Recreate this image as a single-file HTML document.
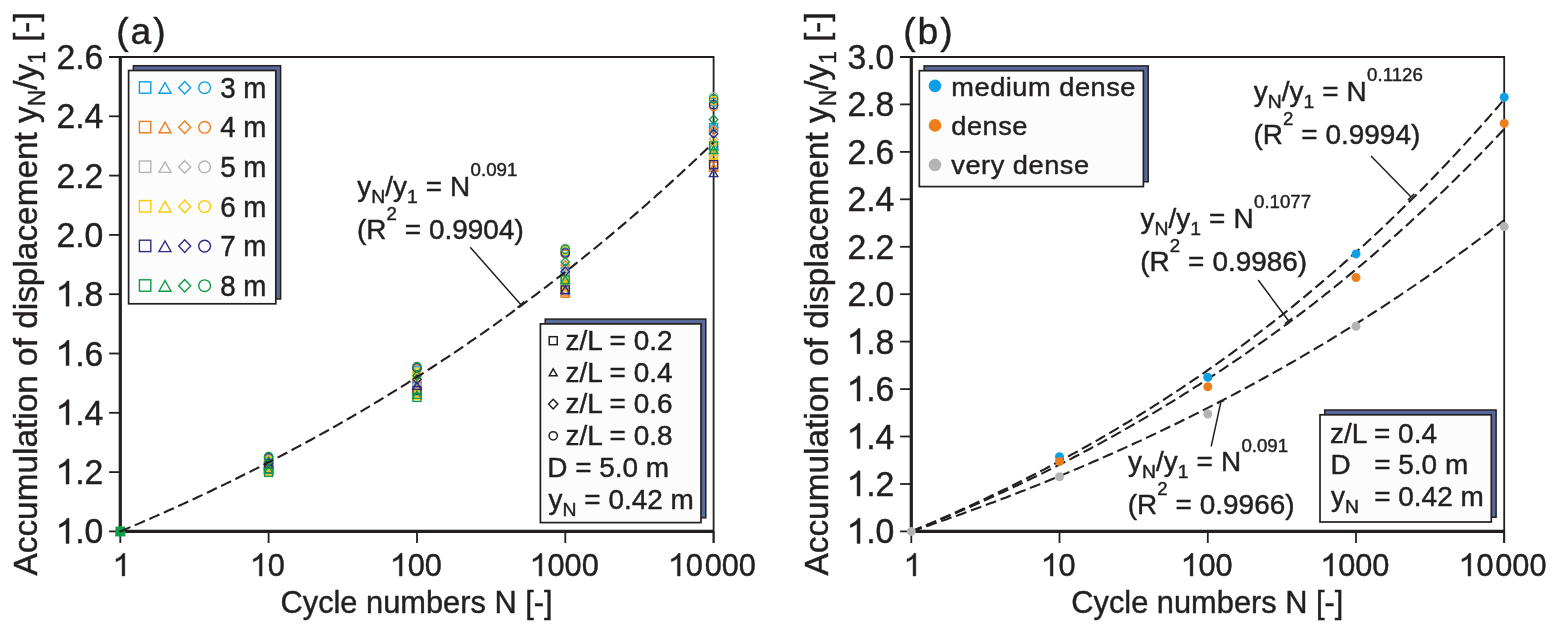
<!DOCTYPE html>
<html><head><meta charset="utf-8"><title>Figure</title>
<style>
html,body{margin:0;padding:0;background:#fff;}
body{width:1559px;height:633px;overflow:hidden;font-family:"Liberation Sans", sans-serif;}
svg{display:block;will-change:transform;}
svg text{font-family:"Liberation Sans", sans-serif;fill:#231f20;stroke:#231f20;stroke-width:0.45px;stroke-linejoin:round;}
</style></head><body>
<svg width="1559" height="633" viewBox="0 0 1559 633">
<rect width="1559" height="633" fill="#ffffff"/>
<path d="M109.1,57.0 H713.6 V543.0" fill="none" stroke="#231f20" stroke-width="1.8"/>
<path d="M120.3,57.0 V531.4 H713.6" fill="none" stroke="#231f20" stroke-width="3.2"/>
<line x1="109.1" y1="531.4" x2="120.3" y2="531.4" stroke="#231f20" stroke-width="1.8"/>
<path transform="translate(56.45,543.40) scale(0.01649,-0.01709)" d="M763 0H583V1147Q510 1085 392 1023Q274 961 176 930V1104Q349 1175 475 1276Q600 1377 647 1472H763Z" fill="#231f20" stroke="#231f20" stroke-width="26.3" stroke-linejoin="round"/>
<text transform="translate(75.23,543.40) scale(0.965,1)" font-size="35.0">.</text>
<text transform="translate(84.62,543.40) scale(0.965,1)" font-size="35.0">0</text>
<line x1="109.1" y1="472.1" x2="120.3" y2="472.1" stroke="#231f20" stroke-width="1.8"/>
<path transform="translate(56.45,484.10) scale(0.01649,-0.01709)" d="M763 0H583V1147Q510 1085 392 1023Q274 961 176 930V1104Q349 1175 475 1276Q600 1377 647 1472H763Z" fill="#231f20" stroke="#231f20" stroke-width="26.3" stroke-linejoin="round"/>
<text transform="translate(75.23,484.10) scale(0.965,1)" font-size="35.0">.</text>
<text transform="translate(84.62,484.10) scale(0.965,1)" font-size="35.0">2</text>
<line x1="109.1" y1="412.8" x2="120.3" y2="412.8" stroke="#231f20" stroke-width="1.8"/>
<path transform="translate(56.45,424.80) scale(0.01649,-0.01709)" d="M763 0H583V1147Q510 1085 392 1023Q274 961 176 930V1104Q349 1175 475 1276Q600 1377 647 1472H763Z" fill="#231f20" stroke="#231f20" stroke-width="26.3" stroke-linejoin="round"/>
<text transform="translate(75.23,424.80) scale(0.965,1)" font-size="35.0">.</text>
<text transform="translate(84.62,424.80) scale(0.965,1)" font-size="35.0">4</text>
<line x1="109.1" y1="353.5" x2="120.3" y2="353.5" stroke="#231f20" stroke-width="1.8"/>
<path transform="translate(56.45,365.50) scale(0.01649,-0.01709)" d="M763 0H583V1147Q510 1085 392 1023Q274 961 176 930V1104Q349 1175 475 1276Q600 1377 647 1472H763Z" fill="#231f20" stroke="#231f20" stroke-width="26.3" stroke-linejoin="round"/>
<text transform="translate(75.23,365.50) scale(0.965,1)" font-size="35.0">.</text>
<text transform="translate(84.62,365.50) scale(0.965,1)" font-size="35.0">6</text>
<line x1="109.1" y1="294.2" x2="120.3" y2="294.2" stroke="#231f20" stroke-width="1.8"/>
<path transform="translate(56.45,306.20) scale(0.01649,-0.01709)" d="M763 0H583V1147Q510 1085 392 1023Q274 961 176 930V1104Q349 1175 475 1276Q600 1377 647 1472H763Z" fill="#231f20" stroke="#231f20" stroke-width="26.3" stroke-linejoin="round"/>
<text transform="translate(75.23,306.20) scale(0.965,1)" font-size="35.0">.</text>
<text transform="translate(84.62,306.20) scale(0.965,1)" font-size="35.0">8</text>
<line x1="109.1" y1="234.9" x2="120.3" y2="234.9" stroke="#231f20" stroke-width="1.8"/>
<text transform="translate(56.45,246.90) scale(0.965,1)" font-size="35.0">2</text>
<text transform="translate(75.23,246.90) scale(0.965,1)" font-size="35.0">.</text>
<text transform="translate(84.62,246.90) scale(0.965,1)" font-size="35.0">0</text>
<line x1="109.1" y1="175.6" x2="120.3" y2="175.6" stroke="#231f20" stroke-width="1.8"/>
<text transform="translate(56.45,187.60) scale(0.965,1)" font-size="35.0">2</text>
<text transform="translate(75.23,187.60) scale(0.965,1)" font-size="35.0">.</text>
<text transform="translate(84.62,187.60) scale(0.965,1)" font-size="35.0">2</text>
<line x1="109.1" y1="116.3" x2="120.3" y2="116.3" stroke="#231f20" stroke-width="1.8"/>
<text transform="translate(56.45,128.30) scale(0.965,1)" font-size="35.0">2</text>
<text transform="translate(75.23,128.30) scale(0.965,1)" font-size="35.0">.</text>
<text transform="translate(84.62,128.30) scale(0.965,1)" font-size="35.0">4</text>
<line x1="109.1" y1="57.0" x2="120.3" y2="57.0" stroke="#231f20" stroke-width="1.8"/>
<text transform="translate(56.45,69.00) scale(0.965,1)" font-size="35.0">2</text>
<text transform="translate(75.23,69.00) scale(0.965,1)" font-size="35.0">.</text>
<text transform="translate(84.62,69.00) scale(0.965,1)" font-size="35.0">6</text>
<line x1="120.3" y1="531.4" x2="120.3" y2="543.0" stroke="#231f20" stroke-width="1.8"/>
<path transform="translate(113.36,576.00) scale(0.01500,-0.01538)" d="M763 0H583V1147Q510 1085 392 1023Q274 961 176 930V1104Q349 1175 475 1276Q600 1377 647 1472H763Z" fill="#231f20" stroke="#231f20" stroke-width="29.3" stroke-linejoin="round"/>
<line x1="268.6" y1="531.4" x2="268.6" y2="543.0" stroke="#231f20" stroke-width="1.8"/>
<path transform="translate(250.64,576.00) scale(0.01500,-0.01538)" d="M763 0H583V1147Q510 1085 392 1023Q274 961 176 930V1104Q349 1175 475 1276Q600 1377 647 1472H763Z" fill="#231f20" stroke="#231f20" stroke-width="29.3" stroke-linejoin="round"/>
<text transform="translate(267.73,576.00) scale(0.975,1)" font-size="31.5">0</text>
<line x1="417.0" y1="531.4" x2="417.0" y2="543.0" stroke="#231f20" stroke-width="1.8"/>
<path transform="translate(390.63,576.00) scale(0.01500,-0.01538)" d="M763 0H583V1147Q510 1085 392 1023Q274 961 176 930V1104Q349 1175 475 1276Q600 1377 647 1472H763Z" fill="#231f20" stroke="#231f20" stroke-width="29.3" stroke-linejoin="round"/>
<text transform="translate(407.71,576.00) scale(0.975,1)" font-size="31.5">0</text>
<text transform="translate(424.79,576.00) scale(0.975,1)" font-size="31.5">0</text>
<line x1="565.3" y1="531.4" x2="565.3" y2="543.0" stroke="#231f20" stroke-width="1.8"/>
<path transform="translate(530.41,576.00) scale(0.01500,-0.01538)" d="M763 0H583V1147Q510 1085 392 1023Q274 961 176 930V1104Q349 1175 475 1276Q600 1377 647 1472H763Z" fill="#231f20" stroke="#231f20" stroke-width="29.3" stroke-linejoin="round"/>
<text transform="translate(547.49,576.00) scale(0.975,1)" font-size="31.5">0</text>
<text transform="translate(564.58,576.00) scale(0.975,1)" font-size="31.5">0</text>
<text transform="translate(581.66,576.00) scale(0.975,1)" font-size="31.5">0</text>
<line x1="713.6" y1="531.4" x2="713.6" y2="543.0" stroke="#231f20" stroke-width="1.8"/>
<path transform="translate(668.70,576.00) scale(0.01500,-0.01538)" d="M763 0H583V1147Q510 1085 392 1023Q274 961 176 930V1104Q349 1175 475 1276Q600 1377 647 1472H763Z" fill="#231f20" stroke="#231f20" stroke-width="29.3" stroke-linejoin="round"/>
<text transform="translate(685.78,576.00) scale(0.975,1)" font-size="31.5">0</text>
<text transform="translate(704.66,576.00) scale(0.975,1)" font-size="31.5">0</text>
<text transform="translate(721.74,576.00) scale(0.975,1)" font-size="31.5">0</text>
<text transform="translate(738.82,576.00) scale(0.975,1)" font-size="31.5">0</text>
<text transform="translate(416.55,613.20) scale(0.957,1)" font-size="32.2" text-anchor="middle">Cycle numbers N [-]</text>
<text transform="translate(37.40,293.90) rotate(-90) scale(0.988,1)" font-size="33.8" text-anchor="middle">Accumulation of displacement y<tspan font-size="23" dy="8">N</tspan><tspan dy="-8">/y</tspan><tspan font-size="23" dy="8">1</tspan><tspan dy="-8"> [-]</tspan></text>
<text transform="translate(116.20,43.60)" font-size="37.2" text-anchor="start" letter-spacing="2.0">(a)</text>
<rect x="264.62" y="463.89" width="8.00" height="8.00" fill="none" stroke="#0d9fe6" stroke-width="1.4"/>
<path d="M268.62,461.43 L272.87,468.87 L264.38,468.87 Z" fill="none" stroke="#0d9fe6" stroke-width="1.4"/>
<path d="M268.62,459.52 L272.82,463.92 L268.62,468.32 L264.43,463.92 Z" fill="none" stroke="#0d9fe6" stroke-width="1.4"/>
<circle cx="268.62" cy="458.34" r="4.12" fill="none" stroke="#0d9fe6" stroke-width="1.4"/>
<rect x="264.62" y="462.76" width="8.00" height="8.00" fill="none" stroke="#ee7d1b" stroke-width="1.4"/>
<path d="M268.62,462.49 L272.87,469.93 L264.38,469.93 Z" fill="none" stroke="#ee7d1b" stroke-width="1.4"/>
<path d="M268.62,457.86 L272.82,462.26 L268.62,466.66 L264.43,462.26 Z" fill="none" stroke="#ee7d1b" stroke-width="1.4"/>
<circle cx="268.62" cy="459.17" r="4.12" fill="none" stroke="#ee7d1b" stroke-width="1.4"/>
<rect x="264.62" y="466.14" width="8.00" height="8.00" fill="none" stroke="#b4b4b4" stroke-width="1.4"/>
<path d="M268.62,463.56 L272.87,471.00 L264.38,471.00 Z" fill="none" stroke="#b4b4b4" stroke-width="1.4"/>
<path d="M268.62,460.35 L272.82,464.75 L268.62,469.15 L264.43,464.75 Z" fill="none" stroke="#b4b4b4" stroke-width="1.4"/>
<circle cx="268.62" cy="460.00" r="4.12" fill="none" stroke="#b4b4b4" stroke-width="1.4"/>
<rect x="264.62" y="467.27" width="8.00" height="8.00" fill="none" stroke="#fdc900" stroke-width="1.4"/>
<path d="M268.62,464.63 L272.87,472.07 L264.38,472.07 Z" fill="none" stroke="#fdc900" stroke-width="1.4"/>
<path d="M268.62,461.18 L272.82,465.58 L268.62,469.98 L264.43,465.58 Z" fill="none" stroke="#fdc900" stroke-width="1.4"/>
<circle cx="268.62" cy="460.83" r="4.12" fill="none" stroke="#fdc900" stroke-width="1.4"/>
<rect x="264.62" y="465.02" width="8.00" height="8.00" fill="none" stroke="#2e2d86" stroke-width="1.4"/>
<path d="M268.62,460.36 L272.87,467.80 L264.38,467.80 Z" fill="none" stroke="#2e2d86" stroke-width="1.4"/>
<path d="M268.62,458.69 L272.82,463.09 L268.62,467.49 L264.43,463.09 Z" fill="none" stroke="#2e2d86" stroke-width="1.4"/>
<circle cx="268.62" cy="457.51" r="4.12" fill="none" stroke="#2e2d86" stroke-width="1.4"/>
<rect x="264.62" y="468.40" width="8.00" height="8.00" fill="none" stroke="#0e9c47" stroke-width="1.4"/>
<path d="M268.62,465.69 L272.87,473.13 L264.38,473.13 Z" fill="none" stroke="#0e9c47" stroke-width="1.4"/>
<path d="M268.62,457.03 L272.82,461.43 L268.62,465.83 L264.43,461.43 Z" fill="none" stroke="#0e9c47" stroke-width="1.4"/>
<circle cx="268.62" cy="456.68" r="4.12" fill="none" stroke="#0e9c47" stroke-width="1.4"/>
<rect x="412.95" y="382.12" width="8.00" height="8.00" fill="none" stroke="#0d9fe6" stroke-width="1.4"/>
<path d="M416.95,384.22 L421.19,391.66 L412.71,391.66 Z" fill="none" stroke="#0d9fe6" stroke-width="1.4"/>
<path d="M416.95,378.45 L421.15,382.85 L416.95,387.25 L412.75,382.85 Z" fill="none" stroke="#0d9fe6" stroke-width="1.4"/>
<circle cx="416.95" cy="370.28" r="4.12" fill="none" stroke="#0d9fe6" stroke-width="1.4"/>
<rect x="412.95" y="388.88" width="8.00" height="8.00" fill="none" stroke="#ee7d1b" stroke-width="1.4"/>
<path d="M416.95,386.47 L421.19,393.91 L412.71,393.91 Z" fill="none" stroke="#ee7d1b" stroke-width="1.4"/>
<path d="M416.95,376.67 L421.15,381.07 L416.95,385.47 L412.75,381.07 Z" fill="none" stroke="#ee7d1b" stroke-width="1.4"/>
<circle cx="416.95" cy="369.04" r="4.12" fill="none" stroke="#ee7d1b" stroke-width="1.4"/>
<rect x="412.95" y="384.37" width="8.00" height="8.00" fill="none" stroke="#b4b4b4" stroke-width="1.4"/>
<path d="M416.95,379.71 L421.19,387.15 L412.71,387.15 Z" fill="none" stroke="#b4b4b4" stroke-width="1.4"/>
<path d="M416.95,380.23 L421.15,384.63 L416.95,389.03 L412.75,384.63 Z" fill="none" stroke="#b4b4b4" stroke-width="1.4"/>
<circle cx="416.95" cy="371.53" r="4.12" fill="none" stroke="#b4b4b4" stroke-width="1.4"/>
<rect x="412.95" y="391.13" width="8.00" height="8.00" fill="none" stroke="#fdc900" stroke-width="1.4"/>
<path d="M416.95,388.72 L421.19,396.16 L412.71,396.16 Z" fill="none" stroke="#fdc900" stroke-width="1.4"/>
<path d="M416.95,373.12 L421.15,377.52 L416.95,381.92 L412.75,377.52 Z" fill="none" stroke="#fdc900" stroke-width="1.4"/>
<circle cx="416.95" cy="372.77" r="4.12" fill="none" stroke="#fdc900" stroke-width="1.4"/>
<rect x="412.95" y="386.62" width="8.00" height="8.00" fill="none" stroke="#2e2d86" stroke-width="1.4"/>
<path d="M416.95,381.96 L421.19,389.40 L412.71,389.40 Z" fill="none" stroke="#2e2d86" stroke-width="1.4"/>
<path d="M416.95,374.90 L421.15,379.30 L416.95,383.70 L412.75,379.30 Z" fill="none" stroke="#2e2d86" stroke-width="1.4"/>
<circle cx="416.95" cy="367.79" r="4.12" fill="none" stroke="#2e2d86" stroke-width="1.4"/>
<rect x="412.95" y="393.38" width="8.00" height="8.00" fill="none" stroke="#0e9c47" stroke-width="1.4"/>
<path d="M416.95,390.98 L421.19,398.42 L412.71,398.42 Z" fill="none" stroke="#0e9c47" stroke-width="1.4"/>
<path d="M416.95,371.34 L421.15,375.74 L416.95,380.14 L412.75,375.74 Z" fill="none" stroke="#0e9c47" stroke-width="1.4"/>
<circle cx="416.95" cy="366.55" r="4.12" fill="none" stroke="#0e9c47" stroke-width="1.4"/>
<rect x="561.27" y="272.41" width="8.00" height="8.00" fill="none" stroke="#0d9fe6" stroke-width="1.4"/>
<path d="M565.27,280.92 L569.51,288.36 L561.03,288.36 Z" fill="none" stroke="#0d9fe6" stroke-width="1.4"/>
<path d="M565.27,263.89 L569.48,268.29 L565.27,272.69 L561.07,268.29 Z" fill="none" stroke="#0d9fe6" stroke-width="1.4"/>
<circle cx="565.27" cy="251.80" r="4.12" fill="none" stroke="#0d9fe6" stroke-width="1.4"/>
<rect x="561.27" y="289.31" width="8.00" height="8.00" fill="none" stroke="#ee7d1b" stroke-width="1.4"/>
<path d="M565.27,288.39 L569.51,295.83 L561.03,295.83 Z" fill="none" stroke="#ee7d1b" stroke-width="1.4"/>
<path d="M565.27,260.68 L569.48,265.08 L565.27,269.48 L561.07,265.08 Z" fill="none" stroke="#ee7d1b" stroke-width="1.4"/>
<circle cx="565.27" cy="254.17" r="4.12" fill="none" stroke="#ee7d1b" stroke-width="1.4"/>
<rect x="561.27" y="279.17" width="8.00" height="8.00" fill="none" stroke="#b4b4b4" stroke-width="1.4"/>
<path d="M565.27,278.43 L569.51,285.87 L561.03,285.87 Z" fill="none" stroke="#b4b4b4" stroke-width="1.4"/>
<path d="M565.27,270.29 L569.48,274.69 L565.27,279.09 L561.07,274.69 Z" fill="none" stroke="#b4b4b4" stroke-width="1.4"/>
<circle cx="565.27" cy="248.24" r="4.12" fill="none" stroke="#b4b4b4" stroke-width="1.4"/>
<rect x="561.27" y="282.55" width="8.00" height="8.00" fill="none" stroke="#fdc900" stroke-width="1.4"/>
<path d="M565.27,283.41 L569.51,290.85 L561.03,290.85 Z" fill="none" stroke="#fdc900" stroke-width="1.4"/>
<path d="M565.27,273.49 L569.48,277.89 L565.27,282.29 L561.07,277.89 Z" fill="none" stroke="#fdc900" stroke-width="1.4"/>
<circle cx="565.27" cy="250.61" r="4.12" fill="none" stroke="#fdc900" stroke-width="1.4"/>
<rect x="561.27" y="285.93" width="8.00" height="8.00" fill="none" stroke="#2e2d86" stroke-width="1.4"/>
<path d="M565.27,285.90 L569.51,293.34 L561.03,293.34 Z" fill="none" stroke="#2e2d86" stroke-width="1.4"/>
<path d="M565.27,267.09 L569.48,271.49 L565.27,275.89 L561.07,271.49 Z" fill="none" stroke="#2e2d86" stroke-width="1.4"/>
<circle cx="565.27" cy="252.99" r="4.12" fill="none" stroke="#2e2d86" stroke-width="1.4"/>
<rect x="561.27" y="275.79" width="8.00" height="8.00" fill="none" stroke="#0e9c47" stroke-width="1.4"/>
<path d="M565.27,275.94 L569.51,283.38 L561.03,283.38 Z" fill="none" stroke="#0e9c47" stroke-width="1.4"/>
<path d="M565.27,257.48 L569.48,261.88 L565.27,266.28 L561.07,261.88 Z" fill="none" stroke="#0e9c47" stroke-width="1.4"/>
<circle cx="565.27" cy="249.43" r="4.12" fill="none" stroke="#0e9c47" stroke-width="1.4"/>
<rect x="709.60" y="123.57" width="8.00" height="8.00" fill="none" stroke="#0d9fe6" stroke-width="1.4"/>
<path d="M713.60,141.92 L717.84,149.36 L709.36,149.36 Z" fill="none" stroke="#0d9fe6" stroke-width="1.4"/>
<path d="M713.60,123.17 L717.80,127.57 L713.60,131.97 L709.40,127.57 Z" fill="none" stroke="#0d9fe6" stroke-width="1.4"/>
<circle cx="713.60" cy="102.07" r="4.12" fill="none" stroke="#0d9fe6" stroke-width="1.4"/>
<rect x="709.60" y="162.11" width="8.00" height="8.00" fill="none" stroke="#ee7d1b" stroke-width="1.4"/>
<path d="M713.60,163.86 L717.84,171.30 L709.36,171.30 Z" fill="none" stroke="#ee7d1b" stroke-width="1.4"/>
<path d="M713.60,125.84 L717.80,130.24 L713.60,134.64 L709.40,130.24 Z" fill="none" stroke="#ee7d1b" stroke-width="1.4"/>
<circle cx="713.60" cy="106.52" r="4.12" fill="none" stroke="#ee7d1b" stroke-width="1.4"/>
<rect x="709.60" y="144.32" width="8.00" height="8.00" fill="none" stroke="#b4b4b4" stroke-width="1.4"/>
<path d="M713.60,148.44 L717.84,155.88 L709.36,155.88 Z" fill="none" stroke="#b4b4b4" stroke-width="1.4"/>
<path d="M713.60,134.73 L717.80,139.13 L713.60,143.53 L709.40,139.13 Z" fill="none" stroke="#b4b4b4" stroke-width="1.4"/>
<circle cx="713.60" cy="96.73" r="4.12" fill="none" stroke="#b4b4b4" stroke-width="1.4"/>
<rect x="709.60" y="150.85" width="8.00" height="8.00" fill="none" stroke="#fdc900" stroke-width="1.4"/>
<path d="M713.60,152.59 L717.84,160.03 L709.36,160.03 Z" fill="none" stroke="#fdc900" stroke-width="1.4"/>
<path d="M713.60,137.99 L717.80,142.39 L713.60,146.79 L709.40,142.39 Z" fill="none" stroke="#fdc900" stroke-width="1.4"/>
<circle cx="713.60" cy="100.88" r="4.12" fill="none" stroke="#fdc900" stroke-width="1.4"/>
<rect x="709.60" y="160.63" width="8.00" height="8.00" fill="none" stroke="#2e2d86" stroke-width="1.4"/>
<path d="M713.60,169.19 L717.84,176.63 L709.36,176.63 Z" fill="none" stroke="#2e2d86" stroke-width="1.4"/>
<path d="M713.60,129.39 L717.80,133.79 L713.60,138.19 L709.40,133.79 Z" fill="none" stroke="#2e2d86" stroke-width="1.4"/>
<circle cx="713.60" cy="104.74" r="4.12" fill="none" stroke="#2e2d86" stroke-width="1.4"/>
<rect x="709.60" y="141.95" width="8.00" height="8.00" fill="none" stroke="#0e9c47" stroke-width="1.4"/>
<path d="M713.60,146.07 L717.84,153.51 L709.36,153.51 Z" fill="none" stroke="#0e9c47" stroke-width="1.4"/>
<path d="M713.60,115.16 L717.80,119.56 L713.60,123.96 L709.40,119.56 Z" fill="none" stroke="#0e9c47" stroke-width="1.4"/>
<circle cx="713.60" cy="98.81" r="4.12" fill="none" stroke="#0e9c47" stroke-width="1.4"/>
<rect x="116.30" y="527.40" width="8.00" height="8.00" fill="none" stroke="#0e9c47" stroke-width="1.6"/>
<path d="M120.30,527.96 L124.54,535.40 L116.06,535.40 Z" fill="none" stroke="#0e9c47" stroke-width="1.6"/>
<path d="M120.30,527.00 L124.50,531.40 L120.30,535.80 L116.10,531.40 Z" fill="none" stroke="#0e9c47" stroke-width="1.6"/>
<circle cx="120.30" cy="531.40" r="4.12" fill="none" stroke="#0e9c47" stroke-width="1.6"/>
<rect x="116.3" y="527.4" width="8" height="8" fill="#0e9c47"/>
<circle cx="120.3" cy="531.4" r="1.2" fill="#231f20"/>
<polyline points="120.3,531.4 123.3,530.2 126.2,528.9 129.2,527.6 132.2,526.4 135.1,525.1 138.1,523.9 141.1,522.6 144.0,521.3 147.0,520.0 150.0,518.7 152.9,517.4 155.9,516.1 158.9,514.8 161.8,513.5 164.8,512.2 167.8,510.8 170.7,509.5 173.7,508.2 176.7,506.8 179.6,505.5 182.6,504.1 185.6,502.8 188.5,501.4 191.5,500.0 194.5,498.7 197.4,497.3 200.4,495.9 203.4,494.5 206.3,493.1 209.3,491.7 212.3,490.3 215.2,488.8 218.2,487.4 221.2,486.0 224.1,484.6 227.1,483.1 230.1,481.7 233.0,480.2 236.0,478.8 239.0,477.3 241.9,475.8 244.9,474.3 247.9,472.9 250.8,471.4 253.8,469.9 256.8,468.4 259.7,466.9 262.7,465.3 265.7,463.8 268.6,462.3 271.6,460.7 274.6,459.2 277.5,457.7 280.5,456.1 283.5,454.5 286.4,453.0 289.4,451.4 292.4,449.8 295.3,448.2 298.3,446.6 301.3,445.0 304.2,443.4 307.2,441.8 310.2,440.2 313.1,438.6 316.1,436.9 319.1,435.3 322.0,433.6 325.0,432.0 328.0,430.3 330.9,428.7 333.9,427.0 336.9,425.3 339.8,423.6 342.8,421.9 345.8,420.2 348.7,418.5 351.7,416.8 354.7,415.0 357.6,413.3 360.6,411.6 363.6,409.8 366.5,408.1 369.5,406.3 372.5,404.5 375.4,402.7 378.4,401.0 381.4,399.2 384.3,397.4 387.3,395.6 390.3,393.7 393.2,391.9 396.2,390.1 399.2,388.3 402.1,386.4 405.1,384.6 408.1,382.7 411.0,380.8 414.0,378.9 417.0,377.1 419.9,375.2 422.9,373.3 425.8,371.4 428.8,369.4 431.8,367.5 434.7,365.6 437.7,363.6 440.7,361.7 443.6,359.7 446.6,357.8 449.6,355.8 452.5,353.8 455.5,351.8 458.5,349.8 461.4,347.8 464.4,345.8 467.4,343.8 470.3,341.7 473.3,339.7 476.3,337.6 479.2,335.6 482.2,333.5 485.2,331.4 488.1,329.4 491.1,327.3 494.1,325.2 497.0,323.0 500.0,320.9 503.0,318.8 505.9,316.7 508.9,314.5 511.9,312.4 514.8,310.2 517.8,308.0 520.8,305.8 523.7,303.6 526.7,301.4 529.7,299.2 532.6,297.0 535.6,294.8 538.6,292.5 541.5,290.3 544.5,288.0 547.5,285.8 550.4,283.5 553.4,281.2 556.4,278.9 559.3,276.6 562.3,274.3 565.3,272.0 568.2,269.6 571.2,267.3 574.2,264.9 577.1,262.6 580.1,260.2 583.1,257.8 586.0,255.4 589.0,253.0 592.0,250.6 594.9,248.2 597.9,245.7 600.9,243.3 603.8,240.8 606.8,238.4 609.8,235.9 612.7,233.4 615.7,230.9 618.7,228.4 621.6,225.9 624.6,223.4 627.6,220.8 630.5,218.3 633.5,215.7 636.5,213.1 639.4,210.6 642.4,208.0 645.4,205.4 648.3,202.7 651.3,200.1 654.3,197.5 657.2,194.8 660.2,192.2 663.2,189.5 666.1,186.8 669.1,184.1 672.1,181.4 675.0,178.7 678.0,176.0 681.0,173.3 683.9,170.5 686.9,167.7 689.9,165.0 692.8,162.2 695.8,159.4 698.8,156.6 701.7,153.8 704.7,150.9 707.7,148.1 710.6,145.2 713.6,142.4" fill="none" stroke="#231f20" stroke-width="2.1" stroke-dasharray="11 4.8" stroke-dashoffset="0"/>
<rect x="133.4" y="65.7" width="147.2" height="233.3" fill="#586a9b" stroke="#231f20" stroke-width="1.5"/>
<rect x="128.6" y="70.5" width="147.2" height="233.3" fill="#fcfcfc" stroke="#231f20" stroke-width="1.7"/>
<rect x="139.40" y="81.80" width="11.40" height="11.40" fill="none" stroke="#0d9fe6" stroke-width="1.4"/>
<path d="M165.00,82.60 L171.04,93.20 L158.96,93.20 Z" fill="none" stroke="#0d9fe6" stroke-width="1.4"/>
<path d="M184.70,81.43 L190.69,87.70 L184.70,93.97 L178.71,87.70 Z" fill="none" stroke="#0d9fe6" stroke-width="1.4"/>
<circle cx="204.60" cy="87.70" r="5.87" fill="none" stroke="#0d9fe6" stroke-width="1.4"/>
<text transform="translate(220.20,97.70) scale(0.97,1)" font-size="28.6" text-anchor="start">3 m</text>
<rect x="139.40" y="121.40" width="11.40" height="11.40" fill="none" stroke="#ee7d1b" stroke-width="1.4"/>
<path d="M165.00,122.20 L171.04,132.80 L158.96,132.80 Z" fill="none" stroke="#ee7d1b" stroke-width="1.4"/>
<path d="M184.70,121.03 L190.69,127.30 L184.70,133.57 L178.71,127.30 Z" fill="none" stroke="#ee7d1b" stroke-width="1.4"/>
<circle cx="204.60" cy="127.30" r="5.87" fill="none" stroke="#ee7d1b" stroke-width="1.4"/>
<text transform="translate(220.20,137.30) scale(0.97,1)" font-size="28.6" text-anchor="start">4 m</text>
<rect x="139.40" y="161.00" width="11.40" height="11.40" fill="none" stroke="#b4b4b4" stroke-width="1.4"/>
<path d="M165.00,161.80 L171.04,172.40 L158.96,172.40 Z" fill="none" stroke="#b4b4b4" stroke-width="1.4"/>
<path d="M184.70,160.63 L190.69,166.90 L184.70,173.17 L178.71,166.90 Z" fill="none" stroke="#b4b4b4" stroke-width="1.4"/>
<circle cx="204.60" cy="166.90" r="5.87" fill="none" stroke="#b4b4b4" stroke-width="1.4"/>
<text transform="translate(220.20,176.90) scale(0.97,1)" font-size="28.6" text-anchor="start">5 m</text>
<rect x="139.40" y="200.60" width="11.40" height="11.40" fill="none" stroke="#fdc900" stroke-width="1.4"/>
<path d="M165.00,201.40 L171.04,212.00 L158.96,212.00 Z" fill="none" stroke="#fdc900" stroke-width="1.4"/>
<path d="M184.70,200.23 L190.69,206.50 L184.70,212.77 L178.71,206.50 Z" fill="none" stroke="#fdc900" stroke-width="1.4"/>
<circle cx="204.60" cy="206.50" r="5.87" fill="none" stroke="#fdc900" stroke-width="1.4"/>
<text transform="translate(220.20,216.50) scale(0.97,1)" font-size="28.6" text-anchor="start">6 m</text>
<rect x="139.40" y="240.20" width="11.40" height="11.40" fill="none" stroke="#2e2d86" stroke-width="1.4"/>
<path d="M165.00,241.00 L171.04,251.60 L158.96,251.60 Z" fill="none" stroke="#2e2d86" stroke-width="1.4"/>
<path d="M184.70,239.83 L190.69,246.10 L184.70,252.37 L178.71,246.10 Z" fill="none" stroke="#2e2d86" stroke-width="1.4"/>
<circle cx="204.60" cy="246.10" r="5.87" fill="none" stroke="#2e2d86" stroke-width="1.4"/>
<text transform="translate(220.20,256.10) scale(0.97,1)" font-size="28.6" text-anchor="start">7 m</text>
<rect x="139.40" y="279.80" width="11.40" height="11.40" fill="none" stroke="#0e9c47" stroke-width="1.4"/>
<path d="M165.00,280.60 L171.04,291.20 L158.96,291.20 Z" fill="none" stroke="#0e9c47" stroke-width="1.4"/>
<path d="M184.70,279.43 L190.69,285.70 L184.70,291.97 L178.71,285.70 Z" fill="none" stroke="#0e9c47" stroke-width="1.4"/>
<circle cx="204.60" cy="285.70" r="5.87" fill="none" stroke="#0e9c47" stroke-width="1.4"/>
<text transform="translate(220.20,295.70) scale(0.97,1)" font-size="28.6" text-anchor="start">8 m</text>
<text transform="translate(357.20,195.90) scale(1.02,1)" font-size="27.4" text-anchor="start">y<tspan font-size="19" dy="7">N</tspan><tspan dy="-7">/y</tspan><tspan font-size="19" dy="7">1</tspan><tspan dy="-7" dx="0.3"> = </tspan><tspan dx="0.3">N</tspan><tspan font-size="18.3" dy="-19.6" dx="0.3">0.091</tspan></text>
<text transform="translate(356.90,239.00) scale(1.02,1)" font-size="27.4" text-anchor="start">(R<tspan font-size="18.3" dy="-19.3">2</tspan><tspan dy="19.3" dx="0.2"> = </tspan><tspan dx="0.2">0.9904)</tspan></text>
<path d="M470.2,247.2 L520.8,304.6 M524.2,301.6 L517.4,307.6" fill="none" stroke="#231f20" stroke-width="1.5"/>
<rect x="545.2" y="319.1" width="160.6" height="198.7" fill="#586a9b" stroke="#231f20" stroke-width="1.5"/>
<rect x="540.4" y="323.9" width="160.6" height="198.7" fill="#fcfcfc" stroke="#231f20" stroke-width="1.7"/>
<rect x="549.20" y="336.70" width="8.00" height="8.00" fill="none" stroke="#231f20" stroke-width="1.5"/>
<text transform="translate(565.60,350.00) scale(1.02,1)" font-size="27.4" text-anchor="start">z/L = 0.2</text>
<path d="M553.20,368.82 L557.12,375.70 L549.28,375.70 Z" fill="none" stroke="#231f20" stroke-width="1.5"/>
<text transform="translate(565.60,381.70) scale(1.02,1)" font-size="27.4" text-anchor="start">z/L = 0.4</text>
<path d="M553.20,399.26 L557.82,404.10 L553.20,408.94 L548.58,404.10 Z" fill="none" stroke="#231f20" stroke-width="1.5"/>
<text transform="translate(565.60,413.40) scale(1.02,1)" font-size="27.4" text-anchor="start">z/L = 0.6</text>
<circle cx="553.20" cy="435.80" r="4.12" fill="none" stroke="#231f20" stroke-width="1.5"/>
<text transform="translate(565.60,445.10) scale(1.02,1)" font-size="27.4" text-anchor="start">z/L = 0.8</text>
<text transform="translate(547.20,476.80) scale(1.02,1)" font-size="27.4" text-anchor="start">D = 5.0 m</text>
<text transform="translate(548.60,508.50) scale(1.02,1)" font-size="27.4" text-anchor="start">y<tspan font-size="19" dy="7">N</tspan><tspan dy="-7"> = 0.42 m</tspan></text>
<path d="M900.1,57.0 H1504.2 V543.0" fill="none" stroke="#231f20" stroke-width="1.8"/>
<path d="M911.3,57.0 V531.4 H1504.2" fill="none" stroke="#231f20" stroke-width="3.2"/>
<line x1="900.1" y1="531.4" x2="911.3" y2="531.4" stroke="#231f20" stroke-width="1.8"/>
<path transform="translate(847.45,543.40) scale(0.01649,-0.01709)" d="M763 0H583V1147Q510 1085 392 1023Q274 961 176 930V1104Q349 1175 475 1276Q600 1377 647 1472H763Z" fill="#231f20" stroke="#231f20" stroke-width="26.3" stroke-linejoin="round"/>
<text transform="translate(866.23,543.40) scale(0.965,1)" font-size="35.0">.</text>
<text transform="translate(875.62,543.40) scale(0.965,1)" font-size="35.0">0</text>
<line x1="900.1" y1="484.0" x2="911.3" y2="484.0" stroke="#231f20" stroke-width="1.8"/>
<path transform="translate(847.45,495.96) scale(0.01649,-0.01709)" d="M763 0H583V1147Q510 1085 392 1023Q274 961 176 930V1104Q349 1175 475 1276Q600 1377 647 1472H763Z" fill="#231f20" stroke="#231f20" stroke-width="26.3" stroke-linejoin="round"/>
<text transform="translate(866.23,495.96) scale(0.965,1)" font-size="35.0">.</text>
<text transform="translate(875.62,495.96) scale(0.965,1)" font-size="35.0">2</text>
<line x1="900.1" y1="436.5" x2="911.3" y2="436.5" stroke="#231f20" stroke-width="1.8"/>
<path transform="translate(847.45,448.52) scale(0.01649,-0.01709)" d="M763 0H583V1147Q510 1085 392 1023Q274 961 176 930V1104Q349 1175 475 1276Q600 1377 647 1472H763Z" fill="#231f20" stroke="#231f20" stroke-width="26.3" stroke-linejoin="round"/>
<text transform="translate(866.23,448.52) scale(0.965,1)" font-size="35.0">.</text>
<text transform="translate(875.62,448.52) scale(0.965,1)" font-size="35.0">4</text>
<line x1="900.1" y1="389.1" x2="911.3" y2="389.1" stroke="#231f20" stroke-width="1.8"/>
<path transform="translate(847.45,401.08) scale(0.01649,-0.01709)" d="M763 0H583V1147Q510 1085 392 1023Q274 961 176 930V1104Q349 1175 475 1276Q600 1377 647 1472H763Z" fill="#231f20" stroke="#231f20" stroke-width="26.3" stroke-linejoin="round"/>
<text transform="translate(866.23,401.08) scale(0.965,1)" font-size="35.0">.</text>
<text transform="translate(875.62,401.08) scale(0.965,1)" font-size="35.0">6</text>
<line x1="900.1" y1="341.6" x2="911.3" y2="341.6" stroke="#231f20" stroke-width="1.8"/>
<path transform="translate(847.45,353.64) scale(0.01649,-0.01709)" d="M763 0H583V1147Q510 1085 392 1023Q274 961 176 930V1104Q349 1175 475 1276Q600 1377 647 1472H763Z" fill="#231f20" stroke="#231f20" stroke-width="26.3" stroke-linejoin="round"/>
<text transform="translate(866.23,353.64) scale(0.965,1)" font-size="35.0">.</text>
<text transform="translate(875.62,353.64) scale(0.965,1)" font-size="35.0">8</text>
<line x1="900.1" y1="294.2" x2="911.3" y2="294.2" stroke="#231f20" stroke-width="1.8"/>
<text transform="translate(847.45,306.20) scale(0.965,1)" font-size="35.0">2</text>
<text transform="translate(866.23,306.20) scale(0.965,1)" font-size="35.0">.</text>
<text transform="translate(875.62,306.20) scale(0.965,1)" font-size="35.0">0</text>
<line x1="900.1" y1="246.8" x2="911.3" y2="246.8" stroke="#231f20" stroke-width="1.8"/>
<text transform="translate(847.45,258.76) scale(0.965,1)" font-size="35.0">2</text>
<text transform="translate(866.23,258.76) scale(0.965,1)" font-size="35.0">.</text>
<text transform="translate(875.62,258.76) scale(0.965,1)" font-size="35.0">2</text>
<line x1="900.1" y1="199.3" x2="911.3" y2="199.3" stroke="#231f20" stroke-width="1.8"/>
<text transform="translate(847.45,211.32) scale(0.965,1)" font-size="35.0">2</text>
<text transform="translate(866.23,211.32) scale(0.965,1)" font-size="35.0">.</text>
<text transform="translate(875.62,211.32) scale(0.965,1)" font-size="35.0">4</text>
<line x1="900.1" y1="151.9" x2="911.3" y2="151.9" stroke="#231f20" stroke-width="1.8"/>
<text transform="translate(847.45,163.88) scale(0.965,1)" font-size="35.0">2</text>
<text transform="translate(866.23,163.88) scale(0.965,1)" font-size="35.0">.</text>
<text transform="translate(875.62,163.88) scale(0.965,1)" font-size="35.0">6</text>
<line x1="900.1" y1="104.4" x2="911.3" y2="104.4" stroke="#231f20" stroke-width="1.8"/>
<text transform="translate(847.45,116.44) scale(0.965,1)" font-size="35.0">2</text>
<text transform="translate(866.23,116.44) scale(0.965,1)" font-size="35.0">.</text>
<text transform="translate(875.62,116.44) scale(0.965,1)" font-size="35.0">8</text>
<line x1="900.1" y1="57.0" x2="911.3" y2="57.0" stroke="#231f20" stroke-width="1.8"/>
<text transform="translate(847.45,69.00) scale(0.965,1)" font-size="35.0">3</text>
<text transform="translate(866.23,69.00) scale(0.965,1)" font-size="35.0">.</text>
<text transform="translate(875.62,69.00) scale(0.965,1)" font-size="35.0">0</text>
<line x1="911.3" y1="531.4" x2="911.3" y2="543.0" stroke="#231f20" stroke-width="1.8"/>
<path transform="translate(904.36,576.00) scale(0.01500,-0.01538)" d="M763 0H583V1147Q510 1085 392 1023Q274 961 176 930V1104Q349 1175 475 1276Q600 1377 647 1472H763Z" fill="#231f20" stroke="#231f20" stroke-width="29.3" stroke-linejoin="round"/>
<line x1="1059.5" y1="531.4" x2="1059.5" y2="543.0" stroke="#231f20" stroke-width="1.8"/>
<path transform="translate(1041.54,576.00) scale(0.01500,-0.01538)" d="M763 0H583V1147Q510 1085 392 1023Q274 961 176 930V1104Q349 1175 475 1276Q600 1377 647 1472H763Z" fill="#231f20" stroke="#231f20" stroke-width="29.3" stroke-linejoin="round"/>
<text transform="translate(1058.62,576.00) scale(0.975,1)" font-size="31.5">0</text>
<line x1="1207.8" y1="531.4" x2="1207.8" y2="543.0" stroke="#231f20" stroke-width="1.8"/>
<path transform="translate(1181.43,576.00) scale(0.01500,-0.01538)" d="M763 0H583V1147Q510 1085 392 1023Q274 961 176 930V1104Q349 1175 475 1276Q600 1377 647 1472H763Z" fill="#231f20" stroke="#231f20" stroke-width="29.3" stroke-linejoin="round"/>
<text transform="translate(1198.51,576.00) scale(0.975,1)" font-size="31.5">0</text>
<text transform="translate(1215.59,576.00) scale(0.975,1)" font-size="31.5">0</text>
<line x1="1356.0" y1="531.4" x2="1356.0" y2="543.0" stroke="#231f20" stroke-width="1.8"/>
<path transform="translate(1321.11,576.00) scale(0.01500,-0.01538)" d="M763 0H583V1147Q510 1085 392 1023Q274 961 176 930V1104Q349 1175 475 1276Q600 1377 647 1472H763Z" fill="#231f20" stroke="#231f20" stroke-width="29.3" stroke-linejoin="round"/>
<text transform="translate(1338.19,576.00) scale(0.975,1)" font-size="31.5">0</text>
<text transform="translate(1355.27,576.00) scale(0.975,1)" font-size="31.5">0</text>
<text transform="translate(1372.36,576.00) scale(0.975,1)" font-size="31.5">0</text>
<line x1="1504.2" y1="531.4" x2="1504.2" y2="543.0" stroke="#231f20" stroke-width="1.8"/>
<path transform="translate(1459.30,576.00) scale(0.01500,-0.01538)" d="M763 0H583V1147Q510 1085 392 1023Q274 961 176 930V1104Q349 1175 475 1276Q600 1377 647 1472H763Z" fill="#231f20" stroke="#231f20" stroke-width="29.3" stroke-linejoin="round"/>
<text transform="translate(1476.38,576.00) scale(0.975,1)" font-size="31.5">0</text>
<text transform="translate(1495.26,576.00) scale(0.975,1)" font-size="31.5">0</text>
<text transform="translate(1512.34,576.00) scale(0.975,1)" font-size="31.5">0</text>
<text transform="translate(1529.42,576.00) scale(0.975,1)" font-size="31.5">0</text>
<text transform="translate(1207.35,613.20) scale(0.957,1)" font-size="32.2" text-anchor="middle">Cycle numbers N [-]</text>
<text transform="translate(828.40,293.90) rotate(-90) scale(0.988,1)" font-size="33.8" text-anchor="middle">Accumulation of displacement y<tspan font-size="23" dy="8">N</tspan><tspan dy="-8">/y</tspan><tspan font-size="23" dy="8">1</tspan><tspan dy="-8"> [-]</tspan></text>
<text transform="translate(903.20,43.60)" font-size="37.2" text-anchor="start" letter-spacing="2.0">(b)</text>
<polyline points="911.3,531.4 914.3,530.2 917.2,528.9 920.2,527.7 923.2,526.4 926.1,525.2 929.1,523.9 932.1,522.6 935.0,521.4 938.0,520.1 940.9,518.8 943.9,517.5 946.9,516.2 949.8,514.9 952.8,513.5 955.8,512.2 958.7,510.9 961.7,509.5 964.7,508.2 967.6,506.8 970.6,505.5 973.6,504.1 976.5,502.7 979.5,501.4 982.4,500.0 985.4,498.6 988.4,497.2 991.3,495.8 994.3,494.3 997.3,492.9 1000.2,491.5 1003.2,490.0 1006.2,488.6 1009.1,487.1 1012.1,485.7 1015.1,484.2 1018.0,482.7 1021.0,481.2 1024.0,479.7 1026.9,478.2 1029.9,476.7 1032.8,475.2 1035.8,473.7 1038.8,472.2 1041.7,470.6 1044.7,469.1 1047.7,467.5 1050.6,465.9 1053.6,464.4 1056.6,462.8 1059.5,461.2 1062.5,459.6 1065.5,458.0 1068.4,456.4 1071.4,454.7 1074.3,453.1 1077.3,451.5 1080.3,449.8 1083.2,448.2 1086.2,446.5 1089.2,444.8 1092.1,443.1 1095.1,441.5 1098.1,439.8 1101.0,438.0 1104.0,436.3 1107.0,434.6 1109.9,432.9 1112.9,431.1 1115.9,429.4 1118.8,427.6 1121.8,425.8 1124.7,424.0 1127.7,422.3 1130.7,420.5 1133.6,418.6 1136.6,416.8 1139.6,415.0 1142.5,413.2 1145.5,411.3 1148.5,409.5 1151.4,407.6 1154.4,405.7 1157.4,403.8 1160.3,401.9 1163.3,400.0 1166.2,398.1 1169.2,396.2 1172.2,394.2 1175.1,392.3 1178.1,390.3 1181.1,388.4 1184.0,386.4 1187.0,384.4 1190.0,382.4 1192.9,380.4 1195.9,378.4 1198.9,376.4 1201.8,374.3 1204.8,372.3 1207.8,370.2 1210.7,368.1 1213.7,366.1 1216.6,364.0 1219.6,361.9 1222.6,359.7 1225.5,357.6 1228.5,355.5 1231.5,353.3 1234.4,351.2 1237.4,349.0 1240.4,346.8 1243.3,344.6 1246.3,342.4 1249.3,340.2 1252.2,338.0 1255.2,335.7 1258.1,333.5 1261.1,331.2 1264.1,329.0 1267.0,326.7 1270.0,324.4 1273.0,322.1 1275.9,319.7 1278.9,317.4 1281.9,315.1 1284.8,312.7 1287.8,310.3 1290.8,308.0 1293.7,305.6 1296.7,303.1 1299.6,300.7 1302.6,298.3 1305.6,295.9 1308.5,293.4 1311.5,290.9 1314.5,288.4 1317.4,285.9 1320.4,283.4 1323.4,280.9 1326.3,278.4 1329.3,275.8 1332.3,273.3 1335.2,270.7 1338.2,268.1 1341.2,265.5 1344.1,262.9 1347.1,260.3 1350.0,257.6 1353.0,255.0 1356.0,252.3 1358.9,249.6 1361.9,246.9 1364.9,244.2 1367.8,241.5 1370.8,238.7 1373.8,236.0 1376.7,233.2 1379.7,230.4 1382.7,227.6 1385.6,224.8 1388.6,222.0 1391.5,219.1 1394.5,216.3 1397.5,213.4 1400.4,210.5 1403.4,207.6 1406.4,204.7 1409.3,201.8 1412.3,198.8 1415.3,195.9 1418.2,192.9 1421.2,189.9 1424.2,186.9 1427.1,183.9 1430.1,180.8 1433.1,177.8 1436.0,174.7 1439.0,171.6 1441.9,168.5 1444.9,165.4 1447.9,162.2 1450.8,159.1 1453.8,155.9 1456.8,152.7 1459.7,149.5 1462.7,146.3 1465.7,143.1 1468.6,139.8 1471.6,136.6 1474.6,133.3 1477.5,130.0 1480.5,126.7 1483.4,123.3 1486.4,120.0 1489.4,116.6 1492.3,113.2 1495.3,109.8 1498.3,106.4 1501.2,102.9 1504.2,99.5" fill="none" stroke="#231f20" stroke-width="2.1" stroke-dasharray="11 4.8" stroke-dashoffset="0"/>
<polyline points="911.3,531.4 914.3,530.2 917.2,529.0 920.2,527.8 923.2,526.6 926.1,525.4 929.1,524.2 932.1,523.0 935.0,521.8 938.0,520.6 940.9,519.3 943.9,518.1 946.9,516.9 949.8,515.6 952.8,514.3 955.8,513.1 958.7,511.8 961.7,510.5 964.7,509.2 967.6,508.0 970.6,506.7 973.6,505.4 976.5,504.1 979.5,502.7 982.4,501.4 985.4,500.1 988.4,498.8 991.3,497.4 994.3,496.1 997.3,494.7 1000.2,493.3 1003.2,492.0 1006.2,490.6 1009.1,489.2 1012.1,487.8 1015.1,486.4 1018.0,485.0 1021.0,483.6 1024.0,482.2 1026.9,480.8 1029.9,479.3 1032.8,477.9 1035.8,476.5 1038.8,475.0 1041.7,473.6 1044.7,472.1 1047.7,470.6 1050.6,469.1 1053.6,467.6 1056.6,466.1 1059.5,464.6 1062.5,463.1 1065.5,461.6 1068.4,460.1 1071.4,458.6 1074.3,457.0 1077.3,455.5 1080.3,453.9 1083.2,452.3 1086.2,450.8 1089.2,449.2 1092.1,447.6 1095.1,446.0 1098.1,444.4 1101.0,442.8 1104.0,441.2 1107.0,439.5 1109.9,437.9 1112.9,436.3 1115.9,434.6 1118.8,432.9 1121.8,431.3 1124.7,429.6 1127.7,427.9 1130.7,426.2 1133.6,424.5 1136.6,422.8 1139.6,421.1 1142.5,419.4 1145.5,417.6 1148.5,415.9 1151.4,414.1 1154.4,412.4 1157.4,410.6 1160.3,408.8 1163.3,407.0 1166.2,405.2 1169.2,403.4 1172.2,401.6 1175.1,399.8 1178.1,397.9 1181.1,396.1 1184.0,394.2 1187.0,392.4 1190.0,390.5 1192.9,388.6 1195.9,386.7 1198.9,384.8 1201.8,382.9 1204.8,381.0 1207.8,379.1 1210.7,377.2 1213.7,375.2 1216.6,373.3 1219.6,371.3 1222.6,369.3 1225.5,367.3 1228.5,365.3 1231.5,363.3 1234.4,361.3 1237.4,359.3 1240.4,357.3 1243.3,355.2 1246.3,353.2 1249.3,351.1 1252.2,349.0 1255.2,346.9 1258.1,344.8 1261.1,342.7 1264.1,340.6 1267.0,338.5 1270.0,336.3 1273.0,334.2 1275.9,332.0 1278.9,329.9 1281.9,327.7 1284.8,325.5 1287.8,323.3 1290.8,321.1 1293.7,318.8 1296.7,316.6 1299.6,314.4 1302.6,312.1 1305.6,309.8 1308.5,307.5 1311.5,305.3 1314.5,303.0 1317.4,300.6 1320.4,298.3 1323.4,296.0 1326.3,293.6 1329.3,291.3 1332.3,288.9 1335.2,286.5 1338.2,284.1 1341.2,281.7 1344.1,279.3 1347.1,276.8 1350.0,274.4 1353.0,271.9 1356.0,269.5 1358.9,267.0 1361.9,264.5 1364.9,262.0 1367.8,259.5 1370.8,256.9 1373.8,254.4 1376.7,251.8 1379.7,249.3 1382.7,246.7 1385.6,244.1 1388.6,241.5 1391.5,238.9 1394.5,236.2 1397.5,233.6 1400.4,230.9 1403.4,228.2 1406.4,225.6 1409.3,222.9 1412.3,220.1 1415.3,217.4 1418.2,214.7 1421.2,211.9 1424.2,209.2 1427.1,206.4 1430.1,203.6 1433.1,200.8 1436.0,197.9 1439.0,195.1 1441.9,192.3 1444.9,189.4 1447.9,186.5 1450.8,183.6 1453.8,180.7 1456.8,177.8 1459.7,174.8 1462.7,171.9 1465.7,168.9 1468.6,165.9 1471.6,163.0 1474.6,159.9 1477.5,156.9 1480.5,153.9 1483.4,150.8 1486.4,147.7 1489.4,144.7 1492.3,141.6 1495.3,138.4 1498.3,135.3 1501.2,132.2 1504.2,129.0" fill="none" stroke="#231f20" stroke-width="2.1" stroke-dasharray="11 4.8" stroke-dashoffset="0"/>
<polyline points="911.3,531.4 914.3,530.4 917.2,529.4 920.2,528.4 923.2,527.4 926.1,526.4 929.1,525.4 932.1,524.3 935.0,523.3 938.0,522.3 940.9,521.2 943.9,520.2 946.9,519.2 949.8,518.1 952.8,517.1 955.8,516.0 958.7,515.0 961.7,513.9 964.7,512.8 967.6,511.7 970.6,510.7 973.6,509.6 976.5,508.5 979.5,507.4 982.4,506.3 985.4,505.2 988.4,504.1 991.3,503.0 994.3,501.9 997.3,500.7 1000.2,499.6 1003.2,498.5 1006.2,497.4 1009.1,496.2 1012.1,495.1 1015.1,493.9 1018.0,492.8 1021.0,491.6 1024.0,490.5 1026.9,489.3 1029.9,488.1 1032.8,486.9 1035.8,485.8 1038.8,484.6 1041.7,483.4 1044.7,482.2 1047.7,481.0 1050.6,479.8 1053.6,478.5 1056.6,477.3 1059.5,476.1 1062.5,474.9 1065.5,473.6 1068.4,472.4 1071.4,471.2 1074.3,469.9 1077.3,468.7 1080.3,467.4 1083.2,466.1 1086.2,464.9 1089.2,463.6 1092.1,462.3 1095.1,461.0 1098.1,459.7 1101.0,458.4 1104.0,457.1 1107.0,455.8 1109.9,454.5 1112.9,453.2 1115.9,451.9 1118.8,450.5 1121.8,449.2 1124.7,447.9 1127.7,446.5 1130.7,445.2 1133.6,443.8 1136.6,442.4 1139.6,441.1 1142.5,439.7 1145.5,438.3 1148.5,436.9 1151.4,435.5 1154.4,434.1 1157.4,432.7 1160.3,431.3 1163.3,429.9 1166.2,428.5 1169.2,427.0 1172.2,425.6 1175.1,424.2 1178.1,422.7 1181.1,421.3 1184.0,419.8 1187.0,418.4 1190.0,416.9 1192.9,415.4 1195.9,413.9 1198.9,412.4 1201.8,410.9 1204.8,409.4 1207.8,407.9 1210.7,406.4 1213.7,404.9 1216.6,403.4 1219.6,401.8 1222.6,400.3 1225.5,398.7 1228.5,397.2 1231.5,395.6 1234.4,394.1 1237.4,392.5 1240.4,390.9 1243.3,389.3 1246.3,387.7 1249.3,386.1 1252.2,384.5 1255.2,382.9 1258.1,381.3 1261.1,379.7 1264.1,378.0 1267.0,376.4 1270.0,374.7 1273.0,373.1 1275.9,371.4 1278.9,369.8 1281.9,368.1 1284.8,366.4 1287.8,364.7 1290.8,363.0 1293.7,361.3 1296.7,359.6 1299.6,357.9 1302.6,356.2 1305.6,354.4 1308.5,352.7 1311.5,350.9 1314.5,349.2 1317.4,347.4 1320.4,345.7 1323.4,343.9 1326.3,342.1 1329.3,340.3 1332.3,338.5 1335.2,336.7 1338.2,334.9 1341.2,333.1 1344.1,331.2 1347.1,329.4 1350.0,327.6 1353.0,325.7 1356.0,323.9 1358.9,322.0 1361.9,320.1 1364.9,318.2 1367.8,316.3 1370.8,314.4 1373.8,312.5 1376.7,310.6 1379.7,308.7 1382.7,306.8 1385.6,304.8 1388.6,302.9 1391.5,300.9 1394.5,298.9 1397.5,297.0 1400.4,295.0 1403.4,293.0 1406.4,291.0 1409.3,289.0 1412.3,287.0 1415.3,285.0 1418.2,282.9 1421.2,280.9 1424.2,278.8 1427.1,276.8 1430.1,274.7 1433.1,272.7 1436.0,270.6 1439.0,268.5 1441.9,266.4 1444.9,264.3 1447.9,262.2 1450.8,260.0 1453.8,257.9 1456.8,255.7 1459.7,253.6 1462.7,251.4 1465.7,249.3 1468.6,247.1 1471.6,244.9 1474.6,242.7 1477.5,240.5 1480.5,238.3 1483.4,236.0 1486.4,233.8 1489.4,231.6 1492.3,229.3 1495.3,227.0 1498.3,224.8 1501.2,222.5 1504.2,220.2" fill="none" stroke="#231f20" stroke-width="2.1" stroke-dasharray="11 4.8" stroke-dashoffset="0"/>
<circle cx="1059.5" cy="456.7" r="4.5" fill="#0d9fe6"/>
<circle cx="1207.8" cy="377.2" r="4.5" fill="#0d9fe6"/>
<circle cx="1356.0" cy="253.9" r="4.5" fill="#0d9fe6"/>
<circle cx="1504.2" cy="97.3" r="4.5" fill="#0d9fe6"/>
<circle cx="1059.5" cy="461.4" r="4.5" fill="#ee7d1b"/>
<circle cx="1207.8" cy="386.7" r="4.5" fill="#ee7d1b"/>
<circle cx="1356.0" cy="277.6" r="4.5" fill="#ee7d1b"/>
<circle cx="1504.2" cy="123.4" r="4.5" fill="#ee7d1b"/>
<circle cx="911.3" cy="531.4" r="4.5" fill="#b4b4b4"/>
<circle cx="1059.5" cy="476.8" r="4.5" fill="#b4b4b4"/>
<circle cx="1207.8" cy="414.0" r="4.5" fill="#b4b4b4"/>
<circle cx="1356.0" cy="326.2" r="4.5" fill="#b4b4b4"/>
<circle cx="1504.2" cy="226.6" r="4.5" fill="#b4b4b4"/>
<rect x="924.1" y="65.9" width="224.1" height="115.9" fill="#586a9b" stroke="#231f20" stroke-width="1.5"/>
<rect x="919.3" y="70.7" width="224.1" height="115.9" fill="#fcfcfc" stroke="#231f20" stroke-width="1.7"/>
<circle cx="935.0" cy="85.9" r="6.3" fill="#0d9fe6"/>
<text transform="translate(951.30,95.80) scale(1.035,1)" font-size="26.3" text-anchor="start" letter-spacing="0.5">medium dense</text>
<circle cx="935.0" cy="125.4" r="6.3" fill="#ee7d1b"/>
<text transform="translate(951.30,135.00) scale(1.035,1)" font-size="26.3" text-anchor="start" letter-spacing="0.5">dense</text>
<circle cx="935.0" cy="164.9" r="6.3" fill="#b4b4b4"/>
<text transform="translate(951.30,174.20) scale(1.035,1)" font-size="26.3" text-anchor="start" letter-spacing="0.5">very dense</text>
<text transform="translate(1253.70,100.80) scale(1.02,1)" font-size="27.4" text-anchor="start">y<tspan font-size="19" dy="7">N</tspan><tspan dy="-7">/y</tspan><tspan font-size="19" dy="7">1</tspan><tspan dy="-7" dx="0.3"> = </tspan><tspan dx="0.3">N</tspan><tspan font-size="18.3" dy="-19.6" dx="0.3">0.1126</tspan></text>
<text transform="translate(1253.40,143.90) scale(1.02,1)" font-size="27.4" text-anchor="start">(R<tspan font-size="18.3" dy="-19.3">2</tspan><tspan dy="19.3" dx="0.2"> = </tspan><tspan dx="0.2">0.9994)</tspan></text>
<path d="M1371.0,156.0 L1411.1,197.0 M1414.3,193.9 L1407.9,200.1" fill="none" stroke="#231f20" stroke-width="1.5"/>
<text transform="translate(1140.60,227.90) scale(1.02,1)" font-size="27.4" text-anchor="start">y<tspan font-size="19" dy="7">N</tspan><tspan dy="-7">/y</tspan><tspan font-size="19" dy="7">1</tspan><tspan dy="-7" dx="0.3"> = </tspan><tspan dx="0.3">N</tspan><tspan font-size="18.3" dy="-19.6" dx="0.3">0.1077</tspan></text>
<text transform="translate(1140.30,271.00) scale(1.02,1)" font-size="27.4" text-anchor="start">(R<tspan font-size="18.3" dy="-19.3">2</tspan><tspan dy="19.3" dx="0.2"> = </tspan><tspan dx="0.2">0.9986)</tspan></text>
<path d="M1258.2,280.0 L1288.5,320.8 M1292.1,318.1 L1284.9,323.5" fill="none" stroke="#231f20" stroke-width="1.5"/>
<text transform="translate(1128.00,471.20) scale(1.02,1)" font-size="27.4" text-anchor="start">y<tspan font-size="19" dy="7">N</tspan><tspan dy="-7">/y</tspan><tspan font-size="19" dy="7">1</tspan><tspan dy="-7" dx="0.3"> = </tspan><tspan dx="0.3">N</tspan><tspan font-size="18.3" dy="-19.6" dx="0.3">0.091</tspan></text>
<text transform="translate(1127.70,514.30) scale(1.02,1)" font-size="27.4" text-anchor="start">(R<tspan font-size="18.3" dy="-19.3">2</tspan><tspan dy="19.3" dx="0.2"> = </tspan><tspan dx="0.2">0.9966)</tspan></text>
<path d="M1211.2,446.4 L1220.9,401.8 M1217.6,403.0 L1224.2,400.6" fill="none" stroke="#231f20" stroke-width="1.5"/>
<rect x="1324.8" y="410.0" width="171.3" height="107.2" fill="#586a9b" stroke="#231f20" stroke-width="1.5"/>
<rect x="1320.0" y="414.8" width="171.3" height="107.2" fill="#fcfcfc" stroke="#231f20" stroke-width="1.7"/>
<text transform="translate(1330.00,442.70) scale(1.02,1)" font-size="27.4" text-anchor="start">z/L <tspan x="43.2">= 0.4</tspan></text>
<text transform="translate(1330.60,474.30) scale(1.02,1)" font-size="27.4" text-anchor="start">D<tspan x="42.8">= 5.0 m</tspan></text>
<text transform="translate(1331.00,505.80) scale(1.02,1)" font-size="27.4" text-anchor="start">y<tspan font-size="19" dy="7">N</tspan><tspan x="42.4" dy="-7">= 0.42 m</tspan></text>
</svg>
</body></html>
